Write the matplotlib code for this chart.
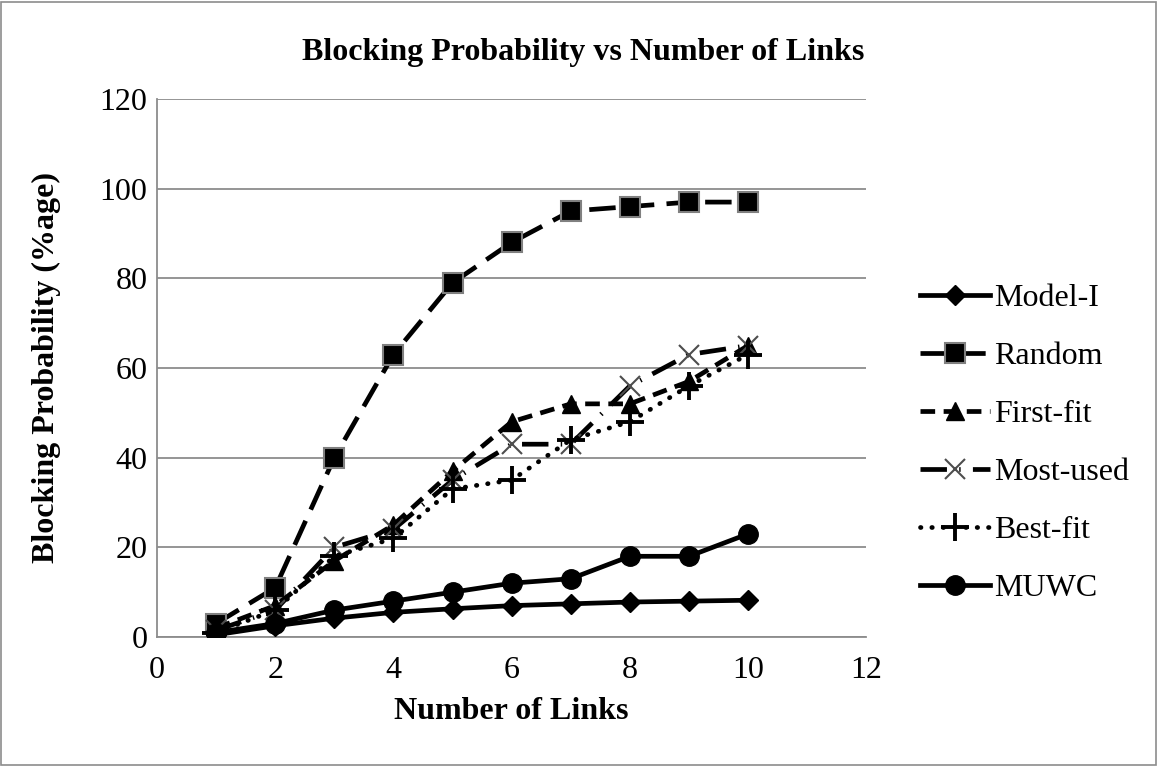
"""
Blocking probability vs number of links.
"""

import matplotlib
matplotlib.use("Agg")
import matplotlib.pyplot as plt


links = [1, 2, 3, 4, 5, 6, 7, 8, 9, 10]

model_i = [0.5, 2.5, 4.2, 5.5, 6.3, 7.0, 7.4, 7.8, 8.0, 8.2]
random_ = [3, 11, 40, 63, 79, 88, 95, 96, 97, 97]
first_fit = [2, 7, 17, 25, 37, 48, 52, 52, 57, 65]
most_used = [1.5, 6, 20, 24, 35, 43, 43, 56, 63, 65]
best_fit = [1, 6, 18, 22, 33, 35, 44, 48, 56, 63]
muwc = [1, 3, 6, 8, 10, 12, 13, 18, 18, 23]

x_ticks = [0, 2, 4, 6, 8, 10, 12]
y_ticks = [0, 20, 40, 60, 80, 100, 120]


plt.rcParams["font.family"] = ["Liberation Serif", "DejaVu Serif"]

fig = plt.figure(figsize=(11.58, 7.66), dpi=100)
ax = fig.add_axes([0.1356, 0.1684, 0.6125, 0.7024])

lw = 3.4
fs = 23

ax.plot(links, model_i, color="black", lw=lw, marker="D", ms=10,
        label="Model-I", zorder=5)
ax.plot(links, random_, color="black", lw=lw, dashes=(5.6, 2.6),
        marker="s", ms=14, mfc="black", mec="#808080", mew=1.5,
        label="Random", zorder=4)
ax.plot(links, first_fit, color="black", lw=lw, dashes=(3.1, 1.8),
        marker="^", ms=13, label="First-fit", zorder=4)
ax.plot(links, most_used, color="black", lw=lw, dashes=(5.6, 2.6, 0.3, 2.6),
        marker="x", ms=14, mec="#4d4d4d", mew=1.5,
        label="Most-used", zorder=4)
ax.plot(links, best_fit, color="black", lw=lw, dashes=(0.1, 2.3),
        dash_capstyle="round",
        marker="+", ms=20, mew=2.8, label="Best-fit", zorder=4)
ax.plot(links, muwc, color="black", lw=lw, marker="o", ms=14,
        label="MUWC", zorder=5)

ax.set_xlim(0, 12)
ax.set_ylim(0, 120)
ax.set_xticks(x_ticks)
ax.set_yticks(y_ticks)
ax.tick_params(axis="both", labelsize=fs, length=0)
ax.tick_params(axis="y", pad=7)
ax.tick_params(axis="x", pad=14)

ax.grid(axis="y", color="#8c8c8c", lw=1.3)
ax.set_axisbelow(True)
for side in ["top", "right"]:
    ax.spines[side].set_visible(False)
for side in ["left", "bottom"]:
    ax.spines[side].set_color("#8c8c8c")
    ax.spines[side].set_linewidth(1.3)

ax.set_xlabel("Number of Links", fontsize=fs, fontweight="bold", labelpad=8)
ax.set_ylabel("Blocking Probability (%age)", fontsize=fs,
              fontweight="bold", labelpad=28)

fig.text(0.504, 0.932, "Blocking Probability vs Number of Links",
         ha="center", va="center", fontsize=fs, fontweight="bold")

ax.legend(loc="center left", bbox_to_anchor=(1.076, 0.36), frameon=False,
          fontsize=fs, handlelength=2.2, handletextpad=0.1,
          labelspacing=0.9, borderaxespad=0, borderpad=0)

# chart-area border
fig.patches.append(plt.Rectangle((0.001, 0.001), 0.997, 0.997,
                                 transform=fig.transFigure, fill=False,
                                 edgecolor="#8c8c8c", lw=1.2))

fig.savefig("out.png", dpi=100)
